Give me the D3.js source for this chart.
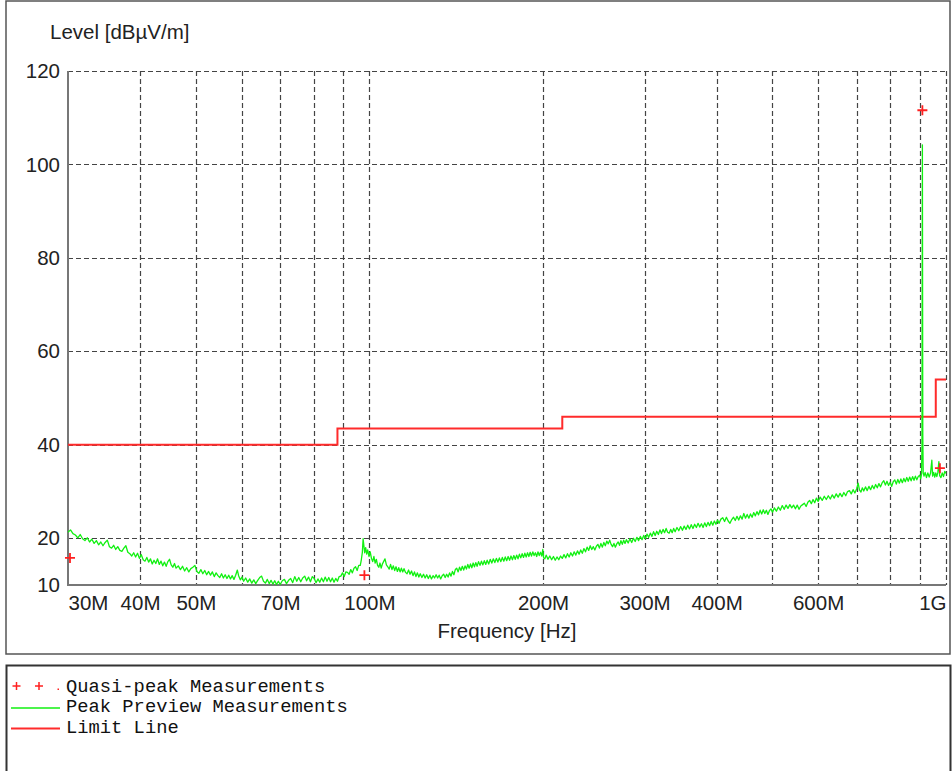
<!DOCTYPE html>
<html>
<head>
<meta charset="utf-8">
<script src="https://cdn.jsdelivr.net/npm/d3@7"></script>
<style>
  html, body { margin: 0; padding: 0; background: #fff; }
  svg { display: block; }
</style>
</head>
<body>
<svg id="chart" width="952" height="771"></svg>
<script>
// Frequency axis (MHz) ticks and labels
const xTickValues = [30, 40, 50, 70, 100, 200, 300, 400, 600, 1000];
const xTickLabels = ["30M", "40M", "50M", "70M", "100M", "200M", "300M", "400M", "600M", "1G"];
const xGridValues = [40, 50, 60, 70, 80, 90, 100, 200, 300, 400, 500, 600, 700, 800, 900, 1000];

// Level axis (dBµV/m)
const yTickValues = [10, 20, 40, 60, 80, 100, 120];
const yGridValues = [20, 40, 60, 80, 100, 120];

// Limit line: band edges (MHz) and the level that applies from each edge on
const limitEdges = [30, 88, 216, 960, 1000];
const limitLevels = [40, 43.5, 46, 54, 54];

// Quasi-peak measurements
const qpFreq = [30.24, 98.0, 910.0, 976.0];
const qpLevel = [15.8, 12.1, 111.6, 35.0];

// Peak preview sweep
const peakFreq = [
  30.0, 30.3, 30.6, 30.9, 31.2, 31.5, 31.8, 32.1, 32.4, 32.7, 33.0, 33.3, 33.6, 33.9, 34.2, 34.5, 34.8, 35.1, 35.4, 35.7,
  36.0, 36.3, 36.6, 36.9, 37.2, 37.5, 37.8, 38.1, 38.4, 38.7, 39.0, 39.3, 39.6, 39.9, 40.2, 40.5, 40.8, 41.1, 41.4, 41.7,
  42.0, 42.3, 42.6, 42.9, 43.2, 43.5, 43.8, 44.1, 44.4, 44.7, 45.0, 45.3, 45.6, 45.9, 46.2, 46.6, 47.0, 47.4, 47.8, 48.2,
  48.6, 49.0, 49.4, 49.8, 50.2, 50.6, 51.0, 51.4, 51.8, 52.2, 52.6, 53.0, 53.4, 53.8, 54.2, 54.6, 55.0, 55.4, 55.8, 56.2,
  56.6, 57.0, 57.4, 57.8, 58.2, 58.6, 59.0, 59.3, 59.7, 60.1, 60.5, 61.0, 61.5, 62.0, 62.5, 63.0, 63.5, 64.0, 64.5, 65.0,
  65.5, 66.0, 66.5, 67.0, 67.5, 68.0, 68.5, 69.0, 69.5, 70.0, 70.6, 71.2, 71.8, 72.4, 73.0, 73.6, 74.2, 74.8, 75.4, 76.0,
  76.6, 77.2, 77.8, 78.4, 79.0, 79.6, 80.2, 80.8, 81.4, 82.0, 82.6, 83.2, 83.8, 84.4, 85.0, 85.6, 86.2, 86.8, 87.4, 88.0,
  88.6, 89.2, 89.8, 90.4, 91.0, 91.6, 92.2, 92.8, 93.4, 94.0, 94.6, 95.2, 95.8, 96.4, 96.8, 97.2, 97.5, 97.8, 98.1, 98.5,
  98.9, 99.3, 99.8, 100.3, 100.8, 101.3, 101.8, 102.3, 102.8, 103.3, 103.8, 104.3, 104.8, 105.3, 105.8, 106.4, 107.0, 107.6, 108.2, 108.8,
  109.4, 110.0, 110.6, 111.2, 111.8, 112.4, 113.0, 113.6, 114.2, 114.8, 115.5, 116.2, 116.9, 117.6, 118.3, 119.0, 119.7, 120.4, 121.1, 121.8,
  122.5, 123.3, 124.1, 124.9, 125.7, 126.5, 127.3, 128.1, 128.9, 129.7, 130.5, 131.3, 132.1, 132.9, 133.7, 134.5, 135.3, 136.1, 136.9, 137.7,
  138.5, 139.3, 140.1, 140.9, 141.7, 142.5, 143.3, 144.1, 144.9, 145.7, 146.5, 147.3, 148.1, 148.9, 149.7, 150.5, 151.3, 152.1, 152.9, 153.7,
  154.6, 155.5, 156.4, 157.3, 158.2, 159.1, 160.0, 161.0, 162.0, 163.0, 164.0, 165.0, 166.0, 167.0, 168.0, 169.0, 170.0, 171.0, 172.0, 173.0,
  174.0, 175.0, 176.0, 177.0, 178.0, 179.0, 180.0, 181.0, 182.0, 183.0, 184.0, 185.0, 186.0, 187.0, 188.0, 189.0, 190.0, 191.0, 192.0, 193.0,
  194.0, 195.0, 196.0, 197.0, 198.0, 199.0, 199.8, 200.5, 201.5, 202.5, 204.0, 205.5, 207.0, 208.5, 210.0, 211.5, 213.0, 214.5, 216.0, 217.5,
  219.0, 220.5, 222.0, 223.5, 225.0, 226.5, 228.0, 229.5, 231.0, 232.5, 234.0, 235.5, 237.0, 238.5, 240.0, 241.5, 243.0, 244.5, 246.0, 247.5,
  249.0, 250.5, 252.0, 253.5, 255.0, 256.5, 258.0, 259.5, 261.0, 262.5, 264.0, 265.5, 267.0, 268.5, 270.0, 271.5, 273.0, 274.5, 276.0, 277.5,
  279.0, 281.0, 283.0, 285.0, 287.0, 289.0, 291.0, 293.0, 295.0, 297.0, 299.0, 301.0, 303.0, 305.0, 307.0, 309.0, 311.0, 313.0, 315.0, 317.0,
  319.0, 321.0, 323.0, 325.0, 327.0, 329.0, 331.0, 333.0, 335.0, 337.0, 339.0, 341.5, 344.0, 346.5, 349.0, 351.5, 354.0, 356.5, 359.0, 361.5,
  364.0, 366.5, 369.0, 371.5, 374.0, 376.5, 379.0, 381.5, 384.0, 386.5, 389.0, 391.5, 394.0, 396.5, 399.0, 401.5, 404.0, 407.0, 410.0, 413.0,
  416.0, 419.0, 422.0, 425.0, 428.0, 431.0, 434.0, 437.0, 440.0, 443.0, 446.0, 449.0, 452.0, 455.0, 458.0, 461.0, 464.0, 467.0, 470.0, 473.0,
  476.0, 479.0, 482.0, 485.0, 488.0, 491.0, 494.0, 497.0, 500.0, 504.0, 508.0, 512.0, 516.0, 520.0, 524.0, 528.0, 532.0, 536.0, 540.0, 544.0,
  548.0, 552.0, 556.0, 560.0, 564.0, 568.0, 572.0, 576.0, 580.0, 584.0, 588.0, 592.0, 596.0, 600.0, 605.0, 610.0, 615.0, 620.0, 625.0, 630.0,
  635.0, 640.0, 645.0, 650.0, 655.0, 660.0, 665.0, 670.0, 675.0, 680.0, 685.0, 690.0, 695.0, 700.0, 704.0, 708.0, 712.0, 716.0, 720.0, 725.0,
  730.0, 735.0, 740.0, 745.0, 750.0, 755.0, 760.0, 765.0, 770.0, 775.0, 780.0, 785.0, 790.0, 795.0, 800.0, 805.0, 810.0, 815.0, 820.0, 825.0,
  830.0, 835.0, 840.0, 845.0, 850.0, 855.0, 860.0, 865.0, 870.0, 875.0, 880.0, 885.0, 890.0, 895.0, 900.0, 904.0, 907.0, 908.5, 910.0, 911.5,
  913.0, 916.0, 920.0, 925.0, 930.0, 935.0, 940.0, 945.0, 948.0, 952.0, 956.0, 960.0, 964.0, 968.0, 972.0, 975.0, 980.0, 985.0, 990.0, 995.0,
  1000.0
];
const peakLevel = [
  21.3, 21.8, 21.0, 20.7, 20.1, 20.8, 19.9, 19.5, 20.1, 19.2, 19.8, 18.9, 19.5, 18.6, 19.2, 18.4, 19.1, 19.6, 18.2, 17.9,
  18.5, 17.6, 18.2, 17.4, 17.2, 17.9, 18.4, 17.0, 16.7, 16.2, 16.9, 16.0, 16.8, 15.7, 16.5, 15.4, 15.1, 15.9, 14.9, 15.6,
  14.5, 15.3, 14.6, 15.6, 14.4, 15.1, 14.1, 14.9, 14.0, 15.0, 15.5, 14.3, 13.8, 14.6, 13.6, 14.1, 13.3, 14.0, 13.0, 13.7,
  12.8, 13.5, 13.8, 14.2, 12.9, 12.5, 13.3, 12.4, 13.1, 12.2, 12.9, 12.1, 12.8, 11.8, 12.6, 12.0, 11.6, 12.4, 11.5, 12.2,
  11.4, 12.1, 11.3, 12.0, 11.2, 12.1, 13.2, 12.0, 11.1, 11.7, 10.8, 11.5, 10.6, 11.3, 10.4, 11.1, 10.3, 11.0, 11.6, 11.9,
  10.8, 10.4, 11.2, 10.3, 11.0, 10.2, 10.9, 10.1, 10.8, 10.1, 10.9, 11.2, 10.3, 11.0, 11.4, 10.5, 11.8, 10.8, 11.6, 10.7,
  11.5, 11.9, 10.9, 11.7, 10.7, 11.8, 11.4, 10.5, 11.3, 10.6, 11.5, 10.7, 11.7, 10.8, 11.6, 10.7, 11.5, 10.6, 11.4, 10.8,
  11.8, 11.9, 12.6, 11.8, 12.8, 12.7, 12.3, 13.3, 12.6, 13.6, 13.9, 13.1, 14.2, 14.2, 15.4, 17.0, 19.9, 18.4, 16.9, 18.0,
  16.6, 17.5, 16.1, 17.1, 15.7, 15.0, 16.1, 14.7, 15.5, 14.2, 13.8, 14.7, 13.6, 14.5, 15.0, 15.6, 14.3, 13.9, 13.4, 14.4,
  13.3, 14.1, 13.1, 13.9, 12.9, 13.7, 12.8, 13.6, 12.8, 13.5, 12.7, 12.4, 13.2, 12.3, 13.0, 12.0, 12.8, 11.8, 12.6, 11.7,
  12.4, 11.6, 12.3, 11.5, 12.2, 11.4, 12.1, 11.3, 12.0, 11.5, 12.2, 11.5, 12.1, 11.3, 12.0, 12.3, 11.6, 12.3, 11.7, 12.6,
  11.9, 12.9, 12.2, 13.3, 13.6, 12.8, 13.8, 13.1, 14.0, 13.2, 14.1, 13.4, 14.4, 13.6, 14.5, 13.7, 14.7, 13.9, 14.8, 14.0,
  15.0, 14.2, 15.1, 14.3, 15.2, 14.4, 15.3, 14.5, 15.5, 14.7, 15.6, 14.8, 15.7, 14.9, 15.8, 15.0, 15.9, 15.1, 16.0, 15.2,
  16.1, 15.3, 16.2, 15.4, 16.3, 15.5, 16.4, 15.6, 16.6, 15.8, 16.7, 15.9, 16.8, 16.0, 16.9, 16.1, 17.0, 16.2, 17.1, 16.3,
  16.9, 16.1, 17.1, 16.3, 17.0, 16.2, 17.6, 15.8, 15.6, 16.4, 15.5, 16.2, 15.4, 16.1, 15.3, 16.0, 15.4, 16.2, 15.7, 16.5,
  15.8, 16.7, 16.0, 16.9, 16.2, 17.1, 16.4, 17.3, 16.6, 17.5, 16.8, 17.8, 17.1, 18.1, 17.4, 18.4, 17.6, 18.2, 17.5, 18.3,
  18.7, 17.9, 18.9, 18.1, 19.1, 18.4, 19.4, 18.8, 19.6, 18.7, 18.2, 18.9, 18.1, 18.8, 19.2, 18.5, 19.5, 18.7, 19.6, 18.9,
  19.7, 19.0, 19.9, 19.1, 20.0, 19.3, 20.2, 19.5, 20.4, 19.7, 20.6, 19.9, 20.9, 20.2, 21.1, 20.4, 21.4, 20.6, 21.5, 20.8,
  21.8, 21.0, 21.9, 21.2, 22.1, 21.3, 21.1, 21.9, 21.2, 22.1, 21.4, 22.3, 21.6, 22.5, 21.7, 22.6, 21.9, 22.8, 22.0, 22.9,
  22.1, 23.0, 22.3, 23.2, 22.4, 23.1, 22.3, 23.3, 22.5, 23.4, 22.7, 23.6, 22.8, 23.7, 23.0, 23.9, 23.2, 24.1, 24.4, 23.6,
  24.5, 23.7, 23.2, 24.0, 24.5, 23.8, 24.7, 23.9, 24.8, 24.1, 25.3, 24.3, 25.1, 24.3, 25.2, 24.5, 25.5, 24.8, 25.7, 25.0,
  26.0, 25.2, 26.1, 25.3, 26.0, 25.1, 25.9, 26.3, 25.6, 26.5, 25.8, 26.7, 26.0, 27.0, 26.2, 27.1, 26.4, 27.2, 26.5, 27.1,
  26.3, 27.1, 26.2, 26.9, 27.2, 27.5, 26.8, 27.7, 28.1, 27.4, 28.3, 27.6, 28.6, 27.9, 28.8, 28.1, 29.0, 28.3, 29.1, 28.4,
  29.3, 28.6, 29.5, 28.8, 29.6, 28.9, 29.8, 29.1, 30.0, 30.2, 29.5, 30.4, 29.7, 30.6, 31.8, 30.3, 29.9, 30.8, 30.1, 31.0,
  30.2, 31.1, 30.4, 31.3, 30.6, 31.5, 30.8, 31.7, 31.0, 31.9, 32.3, 31.4, 32.2, 31.3, 32.0, 31.1, 32.1, 32.5, 31.6, 32.6,
  31.8, 32.7, 31.9, 32.8, 32.1, 33.0, 32.2, 33.1, 32.3, 33.2, 32.4, 33.3, 32.5, 33.2, 33.5, 32.7, 33.8, 40.0, 104.2, 42.0,
  34.0, 33.3, 34.1, 33.0, 34.0, 33.1, 33.9, 36.7, 33.3, 34.1, 33.1, 34.0, 33.2, 34.1, 36.4, 33.4, 33.0, 34.0, 33.2, 34.3,
  33.9
];

const plot = { left: 68, right: 946, top: 71, bottom: 585 };

const svg = d3.select("#chart");

const x = d3.scaleLog().domain([30, 1000]).range([plot.left, plot.right]);
const y = d3.scaleLinear().domain([10, 120]).range([plot.bottom, plot.top]);

const sansFont = "'Liberation Sans', Arial, Helvetica, sans-serif";
const monoFont = "'Courier New', 'Liberation Mono', monospace";
const labelSize = 20.5;

// Chart frame and legend frame
svg.append("rect").attr("x", 6).attr("y", 1).attr("width", 944).attr("height", 653)
  .attr("fill", "none").attr("stroke", "#555").attr("stroke-width", 1.5);
svg.append("path").attr("d", "M6.5,771 V665.5 H950.5 V771")
  .attr("fill", "none").attr("stroke", "#333").attr("stroke-width", 2);

// Grid
const grid = svg.append("g").attr("stroke", "#444").attr("stroke-width", 1.2)
  .attr("stroke-dasharray", "5,3").attr("fill", "none");
grid.selectAll("line.v").data(xGridValues).join("line").attr("class", "v")
  .attr("x1", d => Math.round(x(d)) + 0.5).attr("x2", d => Math.round(x(d)) + 0.5)
  .attr("y1", plot.top).attr("y2", plot.bottom);
grid.selectAll("line.h").data(yGridValues).join("line").attr("class", "h")
  .attr("x1", plot.left).attr("x2", plot.right)
  .attr("y1", d => Math.round(y(d)) + 0.5).attr("y2", d => Math.round(y(d)) + 0.5);

// Solid axes on the left and bottom
svg.append("line").attr("x1", plot.left).attr("x2", plot.left).attr("y1", plot.top).attr("y2", plot.bottom + 1)
  .attr("stroke", "#777").attr("stroke-width", 2);
svg.append("line").attr("x1", plot.left).attr("x2", plot.right).attr("y1", plot.bottom).attr("y2", plot.bottom)
  .attr("stroke", "#777").attr("stroke-width", 2);

// Axis tick labels
const yAxis = d3.axisLeft(y).tickValues(yTickValues).tickSize(0).tickPadding(8).tickFormat(d3.format("d"));
const gy = svg.append("g").attr("transform", `translate(${plot.left},0)`).call(yAxis);
gy.select(".domain").remove();
gy.selectAll("text").attr("font-family", sansFont).attr("font-size", labelSize).attr("fill", "#222");

const xAxis = d3.axisBottom(x).tickValues(xTickValues).tickSize(0).tickPadding(10)
  .tickFormat((d, i) => xTickLabels[i]);
const gx = svg.append("g").attr("transform", `translate(0,${plot.bottom})`).call(xAxis);
gx.select(".domain").remove();
gx.selectAll("text").attr("font-family", sansFont).attr("font-size", labelSize).attr("fill", "#222")
  .attr("text-anchor", (d, i) => i === 0 ? "start" : (i === xTickValues.length - 1 ? "end" : "middle"));

svg.append("text").attr("x", 50).attr("y", 39).text("Level [dBµV/m]")
  .attr("font-family", sansFont).attr("font-size", labelSize).attr("fill", "#222");
svg.append("text").attr("x", (plot.left + plot.right) / 2).attr("y", 638).attr("text-anchor", "middle")
  .text("Frequency [Hz]").attr("font-family", sansFont).attr("font-size", labelSize).attr("fill", "#222");

// Limit line
const limitData = limitEdges.map((f, i) => ({ f, v: limitLevels[i] }));
svg.append("path").datum(limitData)
  .attr("d", d3.line().x(d => x(d.f)).y(d => y(d.v)).curve(d3.curveStepAfter))
  .attr("fill", "none").attr("stroke", "#ff2b2b").attr("stroke-width", 2);

// Peak preview trace
const peakData = peakFreq.map((f, i) => ({ f, v: peakLevel[i] }));
svg.append("path").datum(peakData)
  .attr("d", d3.line().x(d => x(d.f)).y(d => y(d.v)))
  .attr("fill", "none").attr("stroke", "#11f011").attr("stroke-width", 1.3).attr("stroke-linejoin", "round");

// Quasi-peak markers
const cross = (g, cx, cy, r) => g.append("path")
  .attr("d", `M${cx - r},${cy} H${cx + r} M${cx},${cy - r} V${cy + r}`);
const qpG = svg.append("g").attr("stroke", "#ff2020").attr("stroke-width", 1.8).attr("fill", "none");
qpFreq.forEach((f, i) => cross(qpG, x(f), y(qpLevel[i]), 5));

// Legend
const lg = svg.append("g");
const lgMark = lg.append("g").attr("stroke", "#ff2020").attr("stroke-width", 1.5).attr("fill", "none");
cross(lgMark, 16.5, 686, 4);
cross(lgMark, 39, 686, 4);
lg.append("rect").attr("x", 57.5).attr("y", 688.5).attr("width", 1.5).attr("height", 1.5).attr("fill", "#ff2020");
lg.append("line").attr("x1", 11).attr("x2", 60).attr("y1", 708).attr("y2", 708)
  .attr("stroke", "#11f011").attr("stroke-width", 1.3);
lg.append("line").attr("x1", 11).attr("x2", 60).attr("y1", 728.5).attr("y2", 728.5)
  .attr("stroke", "#ff2b2b").attr("stroke-width", 2.2);
const legendLabels = ["Quasi-peak Measurements", "Peak Preview Measurements", "Limit Line"];
lg.selectAll("text").data(legendLabels).join("text")
  .attr("x", 66).attr("y", (d, i) => 692 + i * 20.3)
  .attr("font-family", monoFont).attr("font-size", 18.8).attr("fill", "#111")
  .text(d => d);
</script>
</body>
</html>
